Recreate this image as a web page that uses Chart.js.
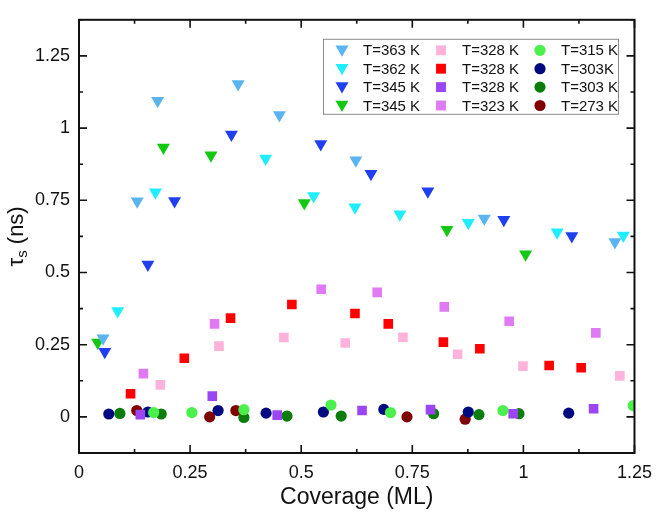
<!DOCTYPE html>
<html lang="en">
<head>
<meta charset="UTF-8">
<title>tau_s vs coverage</title>
<script src="https://cdn.jsdelivr.net/npm/chart.js"></script>
<style>
  html, body { margin: 0; padding: 0; background: #fff; }
  canvas { display: block; }
</style>
</head>
<body>
<canvas id="chart" width="661" height="514"></canvas>
<script>
// legend labels, in legend column order
const seriesLabels = ['T=363 K', 'T=362 K', 'T=345 K', 'T=345 K',
                      'T=328 K', 'T=328 K', 'T=328 K', 'T=323 K',
                      'T=315 K', 'T=303K', 'T=303 K', 'T=273 K'];

// coverage (ML) and tau_s (ns)
const t363x = [0.054, 0.131, 0.177, 0.358, 0.451, 0.623, 0.912, 1.206];
const t363y = [0.272, 0.747, 1.095, 1.153, 1.045, 0.889, 0.687, 0.606];
const t362x = [0.087, 0.172, 0.420, 0.528, 0.621, 0.722, 0.876, 1.076, 1.225];
const t362y = [0.367, 0.778, 0.895, 0.765, 0.726, 0.702, 0.672, 0.639, 0.628];
const t345ax = [0.058, 0.155, 0.215, 0.343, 0.544, 0.657, 0.785, 0.956, 1.109];
const t345ay = [0.226, 0.528, 0.748, 0.978, 0.945, 0.842, 0.781, 0.683, 0.626];
const t345bx = [0.042, 0.190, 0.297, 0.507, 0.828, 1.005];
const t345by = [0.258, 0.933, 0.906, 0.741, 0.648, 0.563];
const t328ax = [0.183, 0.315, 0.461, 0.599, 0.729, 0.852, 0.999, 1.217];
const t328ay = [0.111, 0.245, 0.275, 0.256, 0.276, 0.217, 0.176, 0.142];
const t328bx = [0.116, 0.237, 0.341, 0.479, 0.621, 0.696, 0.820, 0.902, 1.058, 1.130];
const t328by = [0.080, 0.203, 0.342, 0.389, 0.358, 0.322, 0.259, 0.236, 0.178, 0.170];
const t328cx = [0.138, 0.300, 0.446, 0.637, 0.791, 0.977, 1.158];
const t328cy = [0.008, 0.072, 0.006, 0.022, 0.025, 0.011, 0.028];
const t323x = [0.145, 0.305, 0.545, 0.671, 0.822, 0.968, 1.163];
const t323y = [0.150, 0.322, 0.442, 0.431, 0.381, 0.331, 0.291];
const t315x = [0.168, 0.254, 0.371, 0.567, 0.701, 0.954, 1.247];
const t315y = [0.015, 0.015, 0.025, 0.041, 0.015, 0.022, 0.039];
const t303ax = [0.067, 0.155, 0.313, 0.421, 0.550, 0.686, 0.876, 1.102];
const t303ay = [0.010, 0.017, 0.022, 0.013, 0.017, 0.026, 0.017, 0.013];
const t303bx = [0.092, 0.185, 0.371, 0.468, 0.590, 0.798, 0.900, 0.990];
const t303by = [0.012, 0.010, -0.002, 0.003, 0.003, 0.011, 0.008, 0.011];
const t273x = [0.130, 0.294, 0.353, 0.738, 0.869];
const t273y = [0.022, 0.000, 0.022, 0.000, -0.008];

// axis ticks
const xTickValues = [0, 0.25, 0.5, 0.75, 1, 1.25];
const xTickLabels = ['0', '0.25', '0.5', '0.75', '1', '1.25'];
const yTickValues = [0, 0.25, 0.5, 0.75, 1, 1.25];
const yTickLabels = ['0', '0.25', '0.5', '0.75', '1', '1.25'];
const xMinorValues = [0.125, 0.375, 0.625, 0.875, 1.125];
const yMinorValues = [-0.125, 0.125, 0.375, 0.625, 0.875, 1.125, 1.375];

const FONT = 'Arial, "Liberation Sans", Helvetica, sans-serif';

function pts(xs, ys) {
  return xs.map((x, i) => ({ x: x, y: ys[i] }));
}

function makeSet(label, xs, ys, color, style) {
  const tri = style === 'tri';
  return {
    label: label,
    data: pts(xs, ys),
    backgroundColor: color,
    borderColor: color,
    borderWidth: 0,
    pointStyle: tri ? 'triangle' : (style === 'sq' ? 'rect' : 'circle'),
    rotation: tri ? 180 : 0,
    pointRadius: tri ? 7.5 : (style === 'sq' ? 6.8 : 5.6),
    clip: 0
  };
}

const datasets = [
  makeSet(seriesLabels[0], t363x, t363y, '#5ab4f0', 'tri'),
  makeSet(seriesLabels[1], t362x, t362y, '#1eeeff', 'tri'),
  makeSet(seriesLabels[2], t345ax, t345ay, '#1f3ff0', 'tri'),
  makeSet(seriesLabels[3], t345bx, t345by, '#12c812', 'tri'),
  makeSet(seriesLabels[4], t328ax, t328ay, '#ffb3da', 'sq'),
  makeSet(seriesLabels[5], t328bx, t328by, '#ff0000', 'sq'),
  makeSet(seriesLabels[6], t328cx, t328cy, '#9b45f5', 'sq'),
  makeSet(seriesLabels[7], t323x, t323y, '#e07af2', 'sq'),
  makeSet(seriesLabels[8], t315x, t315y, '#4cf04c', 'circ'),
  makeSet(seriesLabels[9], t303ax, t303ay, '#000a80', 'circ'),
  makeSet(seriesLabels[10], t303bx, t303by, '#0a7d0a', 'circ'),
  makeSet(seriesLabels[11], t273x, t273y, '#800000', 'circ')
];

// small marker painter for the legend box
function marker(ctx, style, r, x, y, color) {
  ctx.save();
  ctx.fillStyle = color;
  ctx.beginPath();
  if (style === 'triangle') {
    ctx.moveTo(x, y + r);
    ctx.lineTo(x - r * 0.866, y - r * 0.5);
    ctx.lineTo(x + r * 0.866, y - r * 0.5);
    ctx.closePath();
  } else if (style === 'rect') {
    const h = r * Math.SQRT1_2;
    ctx.rect(x - h, y - h, 2 * h, 2 * h);
  } else {
    ctx.arc(x, y, r, 0, Math.PI * 2);
  }
  ctx.fill();
  ctx.restore();
}

// frame with inward ticks on all four sides
const framePlugin = {
  id: 'frame',
  afterDatasetsDraw(chart) {
    const { ctx, chartArea: a, scales } = chart;
    const xs = scales.x, ys = scales.y;
    ctx.save();
    ctx.strokeStyle = '#111';
    ctx.lineWidth = 2;
    ctx.strokeRect(a.left, a.top, a.right - a.left, a.bottom - a.top);
    ctx.lineWidth = 1.6;
    ctx.beginPath();
    const tickX = (v, len) => {
      const p = xs.getPixelForValue(v);
      ctx.moveTo(p, a.bottom); ctx.lineTo(p, a.bottom - len);
      ctx.moveTo(p, a.top); ctx.lineTo(p, a.top + len);
    };
    const tickY = (v, len) => {
      const p = ys.getPixelForValue(v);
      ctx.moveTo(a.left, p); ctx.lineTo(a.left + len, p);
      ctx.moveTo(a.right, p); ctx.lineTo(a.right - len, p);
    };
    xTickValues.forEach(v => tickX(v, 8));
    xMinorValues.forEach(v => tickX(v, 4));
    yTickValues.forEach(v => tickY(v, 8));
    yMinorValues.forEach(v => tickY(v, 4));
    ctx.stroke();
    ctx.restore();
  }
};

// legend box inside the plot, filled column by column
const legendPlugin = {
  id: 'boxLegend',
  afterDraw(chart) {
    const { ctx, chartArea: a } = chart;
    const left = a.left + 244, top = a.top + 19;
    const w = 295, h = 75;
    ctx.save();
    ctx.fillStyle = '#fff';
    ctx.fillRect(left, top, w, h);
    ctx.strokeStyle = '#8a8a8a';
    ctx.lineWidth = 1;
    ctx.strokeRect(left + 0.5, top + 0.5, w, h);
    ctx.font = '15px ' + FONT;
    ctx.textBaseline = 'middle';
    ctx.fillStyle = '#111';
    chart.data.datasets.forEach((ds, i) => {
      const col = Math.floor(i / 4), row = i % 4;
      const cx = left + 19 + col * 99;
      const cy = top + 11.5 + row * 18.4;
      const r = ds.pointStyle === 'triangle' ? 7.5 : (ds.pointStyle === 'rect' ? 7 : 5.6);
      marker(ctx, ds.pointStyle, r, cx, cy + (ds.pointStyle === 'triangle' ? -1 : 0), ds.backgroundColor);
      ctx.fillStyle = '#111';
      ctx.fillText(ds.label, cx + 21, cy + 1);
    });
    ctx.restore();
  }
};

// rotated y title with subscript s
const yTitlePlugin = {
  id: 'yTitle',
  afterDraw(chart) {
    const { ctx, chartArea: a } = chart;
    const big = '22px ' + FONT, small = '15px ' + FONT;
    ctx.save();
    ctx.font = big;
    const wTau = ctx.measureText('\u03c4').width;
    const wRest = ctx.measureText(' (ns)').width;
    ctx.font = small;
    const wS = ctx.measureText('s').width;
    const total = wTau + wS + wRest;
    ctx.translate(17, (a.top + a.bottom) / 2);
    ctx.rotate(-Math.PI / 2);
    ctx.fillStyle = '#111';
    ctx.textBaseline = 'middle';
    let x = -total / 2;
    ctx.font = big;
    ctx.fillText('\u03c4', x, 0);
    x += wTau;
    ctx.font = small;
    ctx.fillText('s', x, 6);
    x += wS;
    ctx.font = big;
    ctx.fillText(' (ns)', x, 0);
    ctx.restore();
  }
};

new Chart(document.getElementById('chart'), {
  type: 'scatter',
  data: { datasets: datasets },
  options: {
    responsive: false,
    animation: false,
    devicePixelRatio: 1,
    layout: { padding: { top: 4, right: 23, left: 0, bottom: 0 } },
    plugins: {
      legend: { display: false },
      tooltip: { enabled: false }
    },
    scales: {
      x: {
        type: 'linear',
        min: 0,
        max: 1.25,
        grid: { display: false, drawTicks: false },
        border: { display: false },
        afterBuildTicks: s => { s.ticks = xTickValues.map(v => ({ value: v })); },
        afterFit: s => { s.height = 61; },
        ticks: {
          padding: 9,
          maxRotation: 0,
          color: '#111',
          font: { family: FONT, size: 18 },
          callback: (v, i) => xTickLabels[i]
        },
        title: {
          display: true,
          text: 'Coverage (ML)',
          color: '#111',
          font: { family: FONT, size: 23 },
          padding: { top: 0, bottom: 3 }
        }
      },
      y: {
        type: 'linear',
        min: -0.125,
        max: 1.375,
        grid: { display: false, drawTicks: false },
        border: { display: false },
        afterBuildTicks: s => { s.ticks = yTickValues.map(v => ({ value: v })); },
        afterFit: s => { s.width = 79; },
        ticks: {
          padding: 9,
          color: '#111',
          font: { family: FONT, size: 18 },
          callback: (v, i) => yTickLabels[i]
        }
      }
    }
  },
  plugins: [framePlugin, legendPlugin, yTitlePlugin]
});
</script>
</body>
</html>
